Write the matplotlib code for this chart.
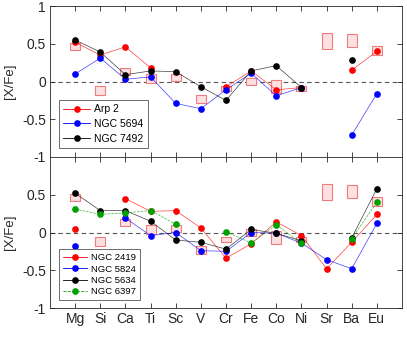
import numpy as np
import matplotlib
matplotlib.use("Agg")
import matplotlib.pyplot as plt
from matplotlib.patches import Rectangle
from matplotlib.lines import Line2D

nan = np.nan
elements = ["Mg", "Si", "Ca", "Ti", "Sc", "V", "Cr", "Fe", "Co", "Ni", "Sr", "Ba", "Eu"]

# reference boxes (centre, full height)
box_mid = [0.46, -0.12, 0.13, 0.04, 0.05, -0.23, -0.09, 0.00, -0.07, -0.09, 0.54, 0.54, 0.41]
box_hgt = [0.09, 0.12, 0.09, 0.12, 0.09, 0.10, 0.06, 0.09, 0.17, 0.07, 0.21, 0.17, 0.11]

# top panel
arp2    = [0.52, 0.35, 0.46, 0.18, nan, nan, -0.07, 0.14, -0.11, -0.08, nan, 0.15, 0.40]
ngc5694 = [0.10, 0.31, 0.03, 0.06, -0.29, -0.36, -0.11, 0.11, -0.19, -0.08, nan, -0.71, -0.16]
ngc7492 = [0.55, 0.39, 0.09, 0.14, 0.13, -0.07, -0.25, 0.14, 0.21, -0.08, nan, 0.28, nan]

# bottom panel
ngc2419 = [0.05, nan, 0.45, 0.28, 0.29, 0.06, -0.34, -0.15, 0.14, -0.04, -0.48, -0.13, 0.24]
ngc5824 = [-0.18, nan, 0.19, -0.04, 0.00, -0.24, -0.25, 0.00, -0.01, -0.14, -0.36, -0.48, 0.12]
ngc5634 = [0.52, 0.29, 0.29, 0.15, -0.10, -0.13, -0.22, 0.04, -0.01, -0.11, nan, -0.07, 0.58]
ngc6397 = [0.31, 0.24, 0.26, 0.29, 0.11, nan, 0.01, -0.14, 0.10, -0.14, nan, -0.08, 0.40]

plt.rcParams['font.family'] = ['Liberation Sans', 'DejaVu Sans']

x = np.arange(1, len(elements) + 1)
fig = plt.figure(figsize=(4.07, 3.47), dpi=100)
ax1 = fig.add_axes([50/407, 1 - 157/347, 352/407, 151/347])
ax2 = fig.add_axes([50/407, 1 - 308/347, 352/407, 151/347])

def style(ax, yt):
    ax.set_xlim(0, 14)
    ax.set_ylim(-1, 1)
    ax.set_xticks(x)
    ax.set_yticks(yt)
    ax.set_yticklabels([f"{v:g}" for v in yt])
    ax.tick_params(direction='in', top=True, right=True, length=3.5, width=0.6,
                   labelsize=10, colors='#262626', pad=3)
    for s in ax.spines.values():
        s.set_color('#262626')
        s.set_linewidth(0.6)
    ax.axhline(0, color='#555555', ls='--', lw=0.8, dashes=(4, 3), zorder=1)
    for xi, m, h in zip(x, box_mid, box_hgt):
        ax.add_patch(Rectangle((xi - 0.2, m - h / 2), 0.4, h, facecolor='#fde0e1',
                               edgecolor='#f07c7c', lw=0.8, zorder=2))
    ax.set_ylabel("[X/Fe]", fontsize=9.5, color='#262626', labelpad=4)

def series(ax, y, c, ls='-'):
    ax.plot(x, y, color=c, ls=ls, lw=0.5, alpha=0.75, zorder=3)
    ax.plot(x, y, color=c, lw=0, marker='o', ms=3.8, mec=c, mfc=c, zorder=4)
    return Line2D([], [], color=c, ls=ls, lw=0.6, marker='o', ms=3.8)

def legend(ax, hs, labels, fs, anchor, spacing):
    leg = ax.legend(hs, labels, loc='lower left',
                    bbox_to_anchor=anchor, borderaxespad=0, fontsize=fs, frameon=True,
                    fancybox=False, edgecolor='#555555', handlelength=2.6,
                    borderpad=0.4, labelspacing=spacing, handletextpad=0.4,
                    framealpha=1)
    leg.get_frame().set_linewidth(0.6)

style(ax1, [-1, -0.5, 0, 0.5, 1])
ax1.set_xticklabels([])
h1 = [series(ax1, arp2, '#ff0000'),
      series(ax1, ngc5694, '#0000ff'),
      series(ax1, ngc7492, '#000000')]
legend(ax1, h1, ["Arp 2", "NGC 5694", "NGC 7492"], 7.5, (9/352, 9/151), 0.45)

style(ax2, [-1, -0.5, 0, 0.5])
ax2.set_xticklabels(elements)
h2 = [series(ax2, ngc2419, '#ff0000'),
      series(ax2, ngc5824, '#0000ff'),
      series(ax2, ngc5634, '#000000'),
      series(ax2, ngc6397, '#00a000', ls='--')]
legend(ax2, h2, ["NGC 2419", "NGC 5824", "NGC 5634", "NGC 6397"], 6.8, (9/352, 8/151), 0.25)

fig.savefig("out.png", dpi=100)
